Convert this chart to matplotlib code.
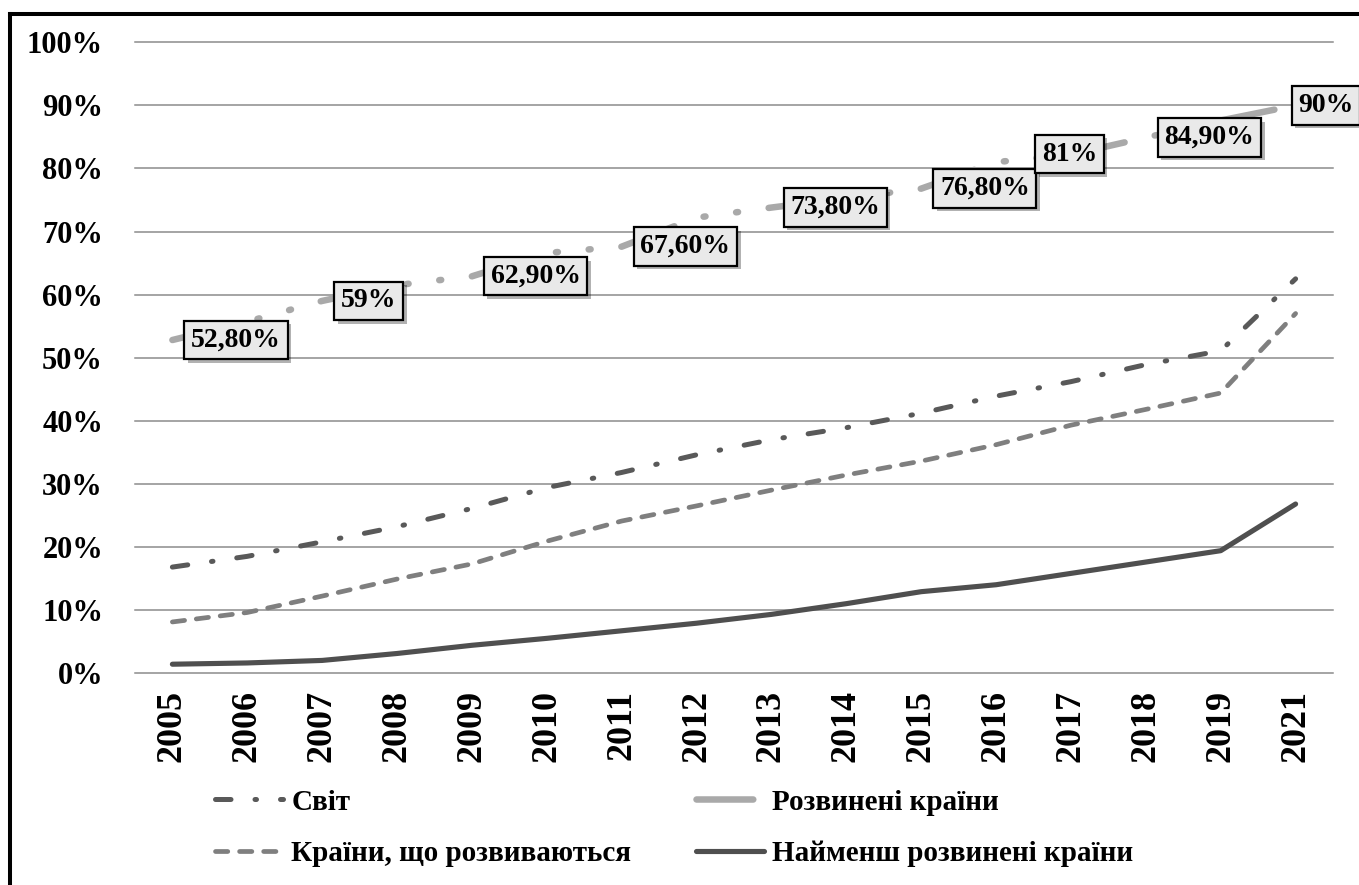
import matplotlib
matplotlib.use("Agg")
import matplotlib.pyplot as plt
import matplotlib.patheffects as pe
from matplotlib.lines import Line2D

# Частка користувачів Інтернету за групами країн
years = ['2005', '2006', '2007', '2008', '2009', '2010', '2011', '2012',
         '2013', '2014', '2015', '2016', '2017', '2018', '2019', '2021']

svit = [16.8, 18.5, 20.8, 23.2, 26.1, 29.4, 31.8, 34.6,
        37.0, 38.9, 41.2, 43.9, 46.2, 48.9, 51.1, 62.5]
rozvyneni = [52.8, 55.7, 59.0, 61.5, 62.9, 66.6, 67.6, 72.2,
             73.8, 75.3, 76.8, 81.0, 82.2, 84.9, 87.6, 90.0]
shcho_rozv = [8.1, 9.6, 12.2, 14.9, 17.3, 20.9, 24.1, 26.5,
              29.0, 31.4, 33.6, 36.2, 39.3, 41.8, 44.4, 57.0]
naimensh = [1.4, 1.6, 2.0, 3.1, 4.4, 5.5, 6.7, 7.9,
            9.3, 11.0, 12.9, 14.0, 15.8, 17.6, 19.4, 26.8]

label_years = ['2005', '2007', '2009', '2011', '2013', '2015', '2016', '2018', '2021']
label_texts = ['52,80%', '59%', '62,90%', '67,60%', '73,80%', '76,80%', '81%', '84,90%', '90%']
# зсув підписів (пт)
label_offsets = [(13.5, 0), (13.5, 0), (13.5, 0), (13.5, 0), (13.5, 0),
                 (13.5, 0), (33, 5.8), (13.5, 0), (2, 0)]

plt.rcParams['font.family'] = ['Liberation Serif', 'DejaVu Serif']
plt.rcParams['font.weight'] = 'bold'

fig = plt.figure(figsize=(13.59, 8.85), dpi=100)
ax = fig.add_axes([0.0993, 0.2395, 0.8816, 0.7127])

x = list(range(len(years)))

l_svit, = ax.plot(x, svit, color='#595959', lw=3.6,
                  dashes=(3.1, 4.8, 0.3, 4.8), dash_capstyle='round',
                  label='Світ', zorder=3)
l_rozv, = ax.plot(x, rozvyneni, color='#A9A9A9', lw=4.7,
                  dashes=(8.7, 4.73, 0.3, 4.73, 0.3, 4.73), dash_capstyle='round',
                  label='Розвинені країни', zorder=3)
l_shcho, = ax.plot(x, shcho_rozv, color='#7F7F7F', lw=3.4,
                   dashes=(2.6, 2.5), dash_capstyle='round',
                   label='Країни, що розвиваються', zorder=3)
l_naim, = ax.plot(x, naimensh, color='#4F4F4F', lw=3.7,
                  solid_capstyle='round', solid_joinstyle='round',
                  label='Найменш розвинені країни', zorder=3)

for yr, txt, off in zip(label_years, label_texts, label_offsets):
    i = years.index(yr)
    ann = ax.annotate(txt, (i, rozvyneni[i]), xytext=off, textcoords='offset points',
                      ha='left', va='center', fontsize=20, fontweight='bold',
                      bbox=dict(boxstyle='square,pad=0.24', fc='#E9E9E9', ec='black', lw=1.6),
                      zorder=5, annotation_clip=False)
    ann.get_bbox_patch().set_path_effects([
        pe.SimplePatchShadow(offset=(2.5, -2.5), shadow_rgbFace='black', alpha=0.3),
        pe.Normal()])

ax.set_xlim(-0.5, len(years) - 0.5)
ax.set_ylim(0, 100)
ax.set_yticks(range(0, 101, 10))
ax.set_yticklabels([f'{v}%' for v in range(0, 101, 10)], fontsize=22, fontweight='bold')
ax.set_xticks(x)
ax.set_xticklabels(years, rotation=90, fontsize=26, fontweight='bold')
ax.tick_params(axis='y', length=0, pad=23)
ax.tick_params(axis='x', length=0, pad=12)
for s in ax.spines.values():
    s.set_visible(False)
ax.yaxis.grid(True, color='#8C8C8C', lw=1.1)
ax.set_axisbelow(True)
for gl in ax.get_ygridlines():
    gl.set_clip_on(False)

fig.legend([l_svit, l_shcho, l_rozv, l_naim],
           ['Світ', 'Країни, що розвиваються', 'Розвинені країни', 'Найменш розвинені країни'],
           loc='upper left', bbox_to_anchor=(0.158, 0.109), ncol=2, frameon=False,
           fontsize=21, handlelength=2.33, handletextpad=0.3, columnspacing=2.2,
           labelspacing=0.85, borderpad=0, borderaxespad=0)

# рамка
fig.add_artist(Line2D([0.007, 0.007], [0, 0.9847], transform=fig.transFigure,
                      color='black', lw=2.9, solid_capstyle='projecting'))
fig.add_artist(Line2D([0.007, 1.0], [0.9847, 0.9847], transform=fig.transFigure,
                      color='black', lw=2.9, solid_capstyle='projecting'))

fig.savefig('out.png', dpi=100)
